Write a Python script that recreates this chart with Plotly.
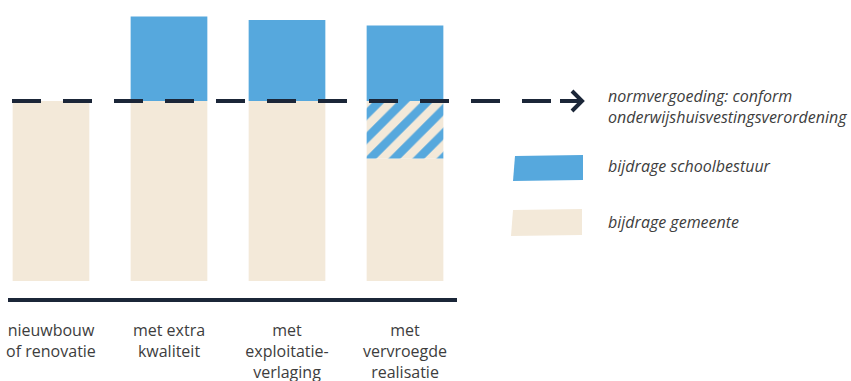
import plotly.graph_objects as go

categories = ["nieuwbouw<br>of renovatie", "met extra<br>kwaliteit", "met<br>exploitatie-<br>verlaging", "met<br>vervroegde<br>realisatie"]
x_pos = [0, 1, 2, 3]
gemeente = [100, 100, 100, 68]
school_in_norm = [0, 0, 0, 32]
school_extra = [0, 47, 45, 42]
norm_level = 100

legend_labels = ["normvergoeding: conform<br>onderwijshuisvestingsverordening",
                 "bijdrage schoolbestuur", "bijdrage gemeente"]

BLUE = "#56a8dd"
BEIGE = "#f3e9d9"
NAVY = "#1b2638"
TXT = "#3d3d3d"

W, H = 851, 381
fig = go.Figure()
bw = 0.65
fig.add_trace(go.Bar(x=x_pos, y=gemeente, width=bw, marker=dict(color=BEIGE, line=dict(width=0)),
                     name="bijdrage gemeente"))
fig.add_trace(go.Bar(x=x_pos, y=school_in_norm, base=gemeente, width=bw,
                     marker=dict(color=BEIGE, line=dict(width=0),
                                 pattern=dict(shape="/", fgcolor=BLUE, bgcolor=BEIGE, fgopacity=1,
                                              size=17, solidity=0.5, fillmode="replace")),
                     name="hatch"))
base2 = [g + s for g, s in zip(gemeente, school_in_norm)]
fig.add_trace(go.Bar(x=x_pos, y=school_extra, base=base2, width=bw,
                     marker=dict(color=BLUE, line=dict(width=0)), name="bijdrage schoolbestuur"))

# pixel overlay axes
fig.add_trace(go.Scatter(x=[0], y=[0], xaxis="x2", yaxis="y2", mode="markers",
                         marker=dict(opacity=0), hoverinfo="skip", showlegend=False))

plot_bottom_px = 300
ymin, ymax = -10.56, 156.1
fig.update_layout(
    width=W, height=H, margin=dict(l=0, r=0, t=0, b=0),
    paper_bgcolor="white", plot_bgcolor="rgba(0,0,0,0)",
    barmode="overlay", showlegend=False,
    font=dict(family="Open Sans", color=TXT),
    xaxis=dict(domain=[0, 460 / W], range=[-0.432, 3.466], tickvals=x_pos, ticktext=categories,
               showgrid=False, zeroline=False, showline=False, ticks="outside", ticklen=16,
               tickcolor="rgba(0,0,0,0)", tickfont=dict(size=16, color=TXT, family="Open Sans"),
               automargin=False, fixedrange=True),
    yaxis=dict(domain=[(H - plot_bottom_px) / H, 1], range=[ymin, ymax], visible=False,
               automargin=False, fixedrange=True),
    xaxis2=dict(domain=[0, 1], range=[0, W], visible=False, anchor="y2", fixedrange=True),
    yaxis2=dict(domain=[0, 1], range=[H, 0], visible=False, anchor="x2", fixedrange=True),
)

# baseline axis line
fig.add_shape(type="line", xref="x2", yref="y2", x0=8, x1=457, y0=300, y1=300,
              line=dict(color=NAVY, width=4))
# dashed norm line across bars (data coords for y)
norm_px = 101
fig.add_shape(type="line", xref="x2", yref="y", x0=12, x1=560, y0=norm_level, y1=norm_level,
              line=dict(color=NAVY, width=4, dash="29px,22px"))
# arrow
fig.add_shape(type="line", xref="x2", yref="y", x0=560, x1=582, y0=norm_level, y1=norm_level,
              line=dict(color=NAVY, width=4))
fig.add_shape(type="path", xref="x2", yref="y2",
              path=f"M 572 {norm_px-10} L 582 {norm_px} L 572 {norm_px+10}",
              line=dict(color=NAVY, width=4))

# legend swatches
fig.add_shape(type="path", xref="x2", yref="y2", path="M 515 156 L 583 155 L 583 180 L 513 181 Z",
              fillcolor=BLUE, line=dict(width=0))
fig.add_shape(type="path", xref="x2", yref="y2", path="M 513 210 L 582 209 L 582 235 L 511 236 Z",
              fillcolor=BEIGE, line=dict(width=0))

leg_y = [106, 166, 222]
for lab, yy in zip(legend_labels, leg_y):
    fig.add_annotation(xref="x2", yref="y2", x=606, y=yy, text=f"<i>{lab}</i>", showarrow=False,
                       xanchor="left", yanchor="middle", align="left",
                       font=dict(size=16, color=TXT, family="Open Sans"))

fig.write_html("out.html")
